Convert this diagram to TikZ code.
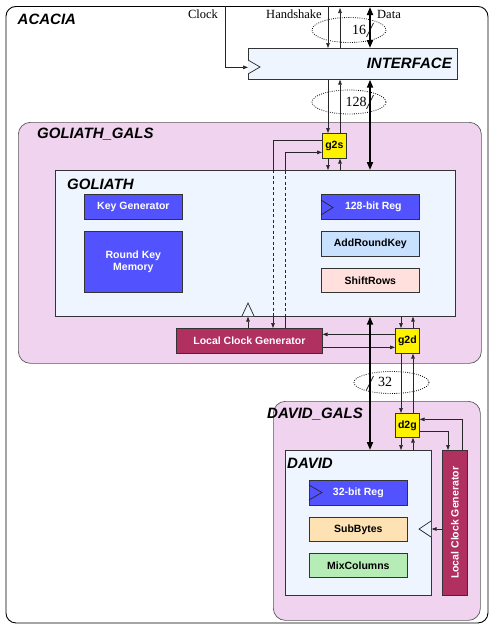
\documentclass[tikz,border=0pt]{standalone}
\usepackage{fontspec}
\setmainfont{Liberation Serif}
\setsansfont{Liberation Sans}
\usetikzlibrary{arrows.meta,calc}
\definecolor{galsfill}{RGB}{239,211,239}
\definecolor{modfill}{RGB}{238,245,255}
\definecolor{blockblue}{RGB}{82,82,255}
\definecolor{maroon}{RGB}{176,48,96}
\definecolor{arkfill}{RGB}{200,225,255}
\definecolor{srfill}{RGB}{255,224,220}
\definecolor{sbfill}{RGB}{255,226,180}
\definecolor{mcfill}{RGB}{182,236,182}
\begin{document}
\begin{tikzpicture}[x=1pt,y=-1pt,
  blk/.style={draw=black!80, line width=0.7pt, inner sep=0pt, anchor=north west,
    font=\sffamily\bfseries\fontsize{10.5}{12.5}\selectfont, align=center},
  gals/.style={draw=black!65, line width=0.7pt, fill=galsfill, rounded corners=12pt, inner sep=0pt, anchor=north west},
  title/.style={font=\sffamily\bfseries\itshape\fontsize{15}{18}\selectfont, inner sep=0pt},
  lbl/.style={font=\fontsize{12.5}{14}\selectfont, inner sep=0pt},
  num/.style={font=\fontsize{14}{15}\selectfont, inner sep=0pt},
  ln/.style={line width=0.7pt, draw=black!85},
  arr/.style={ln, -{Triangle[length=5pt,width=3.6pt]}},
  thk/.style={line width=1.8pt, {Triangle[length=8pt,width=6pt]}-{Triangle[length=8pt,width=6pt]}},
  dsh/.style={ln, dash pattern=on 3pt off 2.5pt},
  ell/.style={line width=0.8pt, dash pattern=on 0.8pt off 1.4pt, draw=black},
  clk/.style={line width=0.7pt, draw=black!85}
]
\useasboundingbox (0,0) rectangle (489,624);
% outer frame
\node[draw=black, line width=0.9pt, rounded corners=10pt, minimum width=482pt, minimum height=616.5pt, inner sep=0pt, anchor=north west] (acacia) at (5.5,6) {};
\node[title, anchor=west] (acacialbl) at (17.5,19) {ACACIA};

% interface
\node[blk, fill=modfill, minimum width=209pt, minimum height=31pt] (iface) at (248,48) {};
\node[title, anchor=east] (ifacelbl) at (452,63) {INTERFACE};
\draw[clk, fill=modfill] (248,60) -- (260,67) -- (248,74);

% GOLIATH_GALS
\node[gals, minimum width=463pt, minimum height=241pt] (gg) at (18,122) {};
\node[title, anchor=west] (gglbl) at (37,134) {GOLIATH\_GALS};

\node[blk, fill=yellow, minimum width=24pt, minimum height=25pt] (g2s) at (322,133) {g2s};

% GOLIATH
\node[blk, fill=modfill, minimum width=400pt, minimum height=146pt] (gol) at (55,170) {};
\node[title, anchor=west] (gollbl) at (67,184) {GOLIATH};
\node[blk, fill=blockblue, text=white, minimum width=98pt, minimum height=25pt] (kg) at (84,194) {Key Generator};
\node[blk, fill=blockblue, text=white, minimum width=98pt, minimum height=61pt] (rkm) at (84,231) {Round Key\\Memory};
\node[blk, fill=blockblue, text=white, minimum width=98pt, minimum height=25pt] (reg128) at (321,194) {\hspace{6pt}128-bit Reg};
\draw[clk] (321,200) -- (333,207.5) -- (321,215);
\node[blk, fill=arkfill, minimum width=98pt, minimum height=25pt] (ark) at (321,231) {AddRoundKey};
\node[blk, fill=srfill, minimum width=98pt, minimum height=24pt] (sr) at (321,268) {ShiftRows};
\draw[clk, fill=modfill] (242,316) -- (248,303) -- (254,316);

\node[blk, fill=maroon, text=white, minimum width=146pt, minimum height=25pt] (lcg1) at (176,328) {Local Clock Generator};
\node[blk, fill=yellow, minimum width=24pt, minimum height=25pt] (g2d) at (395,328) {g2d};

% DAVID_GALS
\node[gals, minimum width=207pt, minimum height=219pt] (dg) at (273,401) {};
\node[title, anchor=west] (dglbl) at (267,414) {DAVID\_GALS};
\node[blk, fill=yellow, minimum width=24pt, minimum height=24pt] (d2g) at (395,413) {d2g};

\node[blk, fill=modfill, minimum width=146pt, minimum height=145pt] (dav) at (285,450) {};
\node[title, anchor=west] (davlbl) at (287,463) {DAVID};
\node[blk, fill=blockblue, text=white, minimum width=98pt, minimum height=25pt] (reg32) at (309,480) {32-bit Reg};
\draw[clk] (309,485) -- (322,492.5) -- (309,500);
\node[blk, fill=sbfill, minimum width=98pt, minimum height=24pt] (sb) at (309,517) {SubBytes};
\node[blk, fill=mcfill, minimum width=98pt, minimum height=24pt] (mc) at (309,553) {MixColumns};
\draw[clk, fill=modfill] (431,521) -- (419,529) -- (431,537);

\node[blk, fill=maroon, minimum width=25pt, minimum height=145pt] (lcg2) at (442,450) {};
\node[rotate=90, text=white, font=\sffamily\bfseries\fontsize{10.5}{12.5}\selectfont, inner sep=0pt] (lcg2t) at (lcg2.center) {Local Clock Generator};

% top labels
\node[lbl] (clocklbl) at (203,14) {Clock};
\node[lbl] (hslbl) at (294,14) {Handshake};
\node[lbl] (datalbl) at (389,14) {Data};

% ellipses
\draw[ell] (349,30) ellipse [x radius=37, y radius=12.5];
\draw[ell] (349,102) ellipse [x radius=37, y radius=12];
\draw[ell] (391.5,382.5) ellipse [x radius=37.5, y radius=11];
\node[num] (n16) at (359,30) {16};
\node[num] (n128) at (356,102) {128};
\node[num] (n32) at (385,382) {32};
\draw[ln] (366.5,37) -- (373.5,23);
\draw[ln] (366.5,109) -- (373.5,95);
\draw[ln] (366.5,390) -- (373.5,376);

% clock input
\coordinate (clkin) at (225,6);
\draw[arr] (clkin) |- ([yshift=-3.5pt]iface.west);
% handshake
\draw[arr] (328,0 |- acacia.north) -- (328,0 |- iface.north);
\draw[arr] (340,0 |- iface.north) -- (340,8);
\draw[thk] (370,7) -- (370,0 |- iface.north);
% interface <-> g2s
\draw[arr] (328,0 |- iface.south) -- (328,0 |- g2s.north);
\draw[arr] (340,0 |- g2s.north) -- (340,0 |- iface.south);
\draw[thk] (370,0 |- iface.south) -- (370,0 |- gol.north);
% g2s <-> goliath
\draw[arr] (328,0 |- g2s.south) -- (328,0 |- gol.north);
\draw[arr] (340,0 |- gol.north) -- (340,0 |- g2s.south);
% g2s <-> local clock gen (through GOLIATH, dashed)
\draw[ln] ([yshift=5.5pt]g2s.west) -| (273,0 |- gol.north);
\draw[dsh] (273,0 |- gol.north) -- (273,0 |- gol.south);
\draw[arr] (273,0 |- gol.south) -- (273,0 |- lcg1.north);
\draw[ln] (285,0 |- lcg1.north) -- (285,0 |- gol.south);
\draw[dsh] (285,0 |- gol.south) -- (285,0 |- gol.north);
\draw[arr] (285,0 |- gol.north) |- ([yshift=-6.5pt]g2s.west);
\draw[arr] (248,0 |- lcg1.north) -- (248,0 |- gol.south);
% g2d
\draw[arr] ([yshift=6.5pt]g2d.west) -- ([yshift=6.5pt]lcg1.east);
\draw[arr] ([yshift=-6.5pt]lcg1.east) -- ([yshift=-6.5pt]g2d.west);
\draw[arr] (401,0 |- gol.south) -- (401,0 |- g2d.north);
\draw[arr] (413,0 |- g2d.north) -- (413,0 |- gol.south);
\draw[thk] (370,0 |- gol.south) -- (370,0 |- dav.north);
\draw[arr] (401,0 |- g2d.south) -- (401,0 |- d2g.north);
\draw[arr] (413,0 |- d2g.north) -- (413,0 |- g2d.south);
% d2g
\draw[arr] (401,0 |- d2g.south) -- (401,0 |- dav.north);
\draw[arr] (413,0 |- dav.north) -- (413,0 |- d2g.south);
\draw[arr] (462,0 |- lcg2.north) |- ([yshift=6pt]d2g.east);
\draw[arr] ([yshift=-6pt]d2g.east) -| (448,0 |- lcg2.north);
\draw[arr] (lcg2.west |- 0,529) -- (dav.east |- 0,529);
\end{tikzpicture}
\end{document}
